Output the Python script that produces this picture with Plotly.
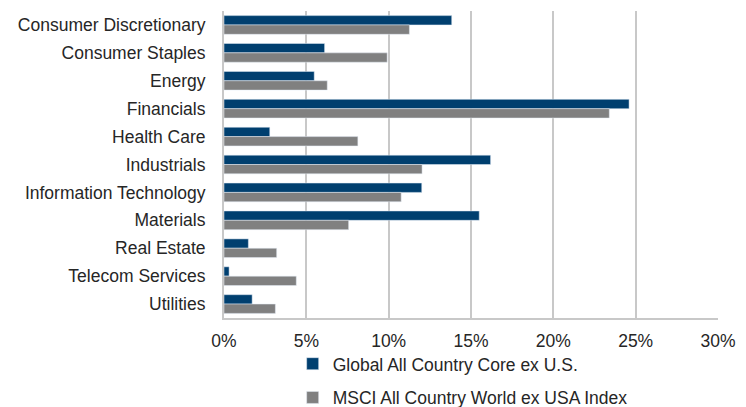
import plotly.graph_objects as go

categories = ["Consumer Discretionary", "Consumer Staples", "Energy", "Financials",
              "Health Care", "Industrials", "Information Technology", "Materials",
              "Real Estate", "Telecom Services", "Utilities"]
core_ex_us = [13.83, 6.11, 5.48, 24.6, 2.78, 16.19, 12.01, 15.5, 1.48, 0.31, 1.71]
msci_acwi_ex_usa = [11.26, 9.91, 6.27, 23.4, 8.13, 12.03, 10.76, 7.57, 3.2, 4.39, 3.12]
tick_vals = [0, 5, 10, 15, 20, 25, 30]
tick_text = ["0%", "5%", "10%", "15%", "20%", "25%", "30%"]

font_family = "Liberation Sans, Arial, sans-serif"
fsize = 17.5

fig = go.Figure()
fig.add_trace(go.Bar(y=categories, x=core_ex_us, orientation="h",
                     name="Global All Country Core ex U.S.",
                     marker=dict(color="#003f6f"), legendgroup="a"))
fig.add_trace(go.Bar(y=categories, x=msci_acwi_ex_usa, orientation="h",
                     name="MSCI All Country World ex USA Index",
                     marker=dict(color="#808080"), legendgroup="b"))

fig.update_layout(
    width=746, height=407,
    margin=dict(l=215.5, r=35.5, t=3, b=97),
    paper_bgcolor="white", plot_bgcolor="white",
    barmode="group", bargap=0.33, bargroupgap=0,
    font=dict(family=font_family, size=fsize, color="#262626"),
    showlegend=True,
    legend=dict(xref="paper", yref="container",
                x=0.139, y=0.17, xanchor="left", yanchor="top",
                traceorder="grouped", tracegroupgap=8,
                font=dict(size=fsize, color="#262626"),
                bgcolor="rgba(0,0,0,0)"),
)
fig.update_xaxes(range=[0, 30], tickvals=tick_vals, ticktext=tick_text,
                 showgrid=True, gridcolor="#c8c8c8", gridwidth=2,
                 showline=True, linecolor="#c8c8c8", linewidth=2,
                 zeroline=False, ticks="", ticklabelstandoff=6,
                 automargin=False, tickfont=dict(size=fsize))
fig.update_yaxes(autorange="reversed", showline=True, linecolor="#c8c8c8",
                 linewidth=2, showgrid=False, ticks="", ticklabelstandoff=13,
                 automargin=False, tickfont=dict(size=fsize))

fig.write_html("out.html")
